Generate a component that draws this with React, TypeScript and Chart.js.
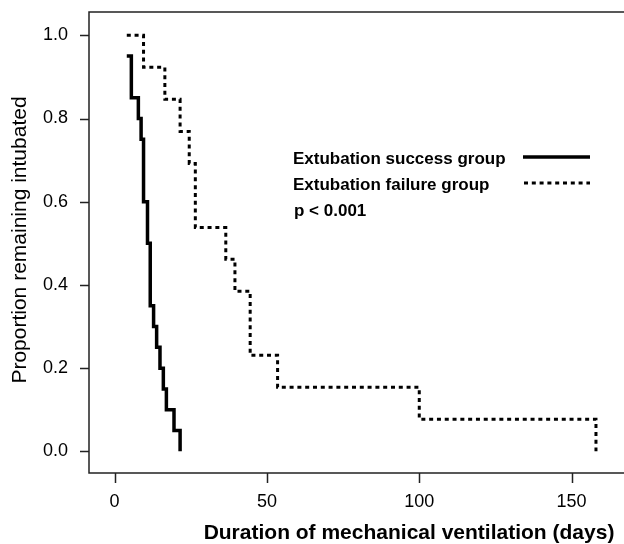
import React, { useEffect, useRef } from "react";
import { Chart, registerables } from "chart.js";

Chart.register(...registerables);

// Kaplan-Meier step data
const successDays = [4, 5.5, 7.8, 8.7, 9.5, 10.8, 11.7, 12.8, 13.8, 14.9, 16, 17, 19.5, 21.5];
const successProp = [0.95, 0.85, 0.8, 0.75, 0.6, 0.5, 0.35, 0.3, 0.25, 0.2, 0.15, 0.1, 0.05, 0.0];
const failureDays = [4, 9.5, 16.5, 21.5, 24.5, 26.5, 36.5, 39.5, 44.5, 53.5, 100, 158];
const failureProp = [1.0, 0.923, 0.846, 0.769, 0.692, 0.538, 0.462, 0.385, 0.231, 0.154, 0.077, 0.0];

const xTicks = [0, 50, 100, 150];
const xTickLabels = ["0", "50", "100", "150"];
const yTicks = [0, 0.2, 0.4, 0.6, 0.8, 1.0];
const yTickLabels = ["0.0", "0.2", "0.4", "0.6", "0.8", "1.0"];

const seriesLabels = ["Extubation success group", "Extubation failure group"];
const pValueText = "p < 0.001";
const xTitle = "Duration of mechanical ventilation (days)";
const yTitle = "Proportion remaining intubated";

const FONT = '"Liberation Sans", Arial, Helvetica, sans-serif';

export default function App() {
  const ref = useRef<HTMLCanvasElement>(null);

  useEffect(() => {
    const canvas = ref.current;
    if (!canvas) return;

    const decor = {
      id: "decor",
      beforeDatasetsDraw(chart: any) {
        const { ctx, chartArea } = chart;
        const xs = chart.scales.x;
        const ys = chart.scales.y;
        ctx.save();
        ctx.fillStyle = "#fff";
        ctx.fillRect(0, 0, chart.width, chart.height);
        ctx.strokeStyle = "#222";
        ctx.lineWidth = 1.5;
        ctx.beginPath();
        ctx.moveTo(chart.width, chartArea.top);
        ctx.lineTo(chartArea.left, chartArea.top);
        ctx.lineTo(chartArea.left, chartArea.bottom);
        ctx.lineTo(chart.width, chartArea.bottom);
        ctx.stroke();
        // ticks
        ctx.beginPath();
        yTicks.forEach((v) => {
          const y = Math.round(ys.getPixelForValue(v)) + 0.5;
          ctx.moveTo(chartArea.left - 9, y);
          ctx.lineTo(chartArea.left, y);
        });
        xTicks.forEach((v) => {
          const x = Math.round(xs.getPixelForValue(v)) + 0.5;
          ctx.moveTo(x, chartArea.bottom);
          ctx.lineTo(x, chartArea.bottom + 10);
        });
        ctx.stroke();
        // tick labels
        ctx.fillStyle = "#000";
        ctx.font = `18px ${FONT}`;
        ctx.textAlign = "center";
        ctx.textBaseline = "middle";
        xTicks.forEach((v, i) => {
          ctx.fillText(xTickLabels[i], xs.getPixelForValue(v), 502);
        });
        ctx.textAlign = "right";
        yTicks.forEach((v, i) => {
          ctx.fillText(yTickLabels[i], 68, ys.getPixelForValue(v));
        });
        // titles
        ctx.font = `bold 21px ${FONT}`;
        ctx.textAlign = "center";
        ctx.textBaseline = "alphabetic";
        ctx.fillText(xTitle, 409, 539);
        ctx.save();
        ctx.translate(20, 240);
        ctx.rotate(-Math.PI / 2);
        ctx.font = `21px ${FONT}`;
        ctx.textBaseline = "middle";
        ctx.fillText(yTitle, 0, 0);
        ctx.restore();
        ctx.restore();
      },
      afterDatasetsDraw(chart: any) {
        const { ctx } = chart;
        ctx.save();
        ctx.fillStyle = "#000";
        ctx.font = `bold 17px ${FONT}`;
        ctx.textAlign = "left";
        ctx.textBaseline = "alphabetic";
        ctx.fillText(seriesLabels[0], 293, 164);
        ctx.fillText(seriesLabels[1], 293, 190);
        ctx.fillText(pValueText, 294, 216);
        ctx.strokeStyle = "#000";
        ctx.lineWidth = 3.5;
        ctx.beginPath();
        ctx.moveTo(523, 157);
        ctx.lineTo(590, 157);
        ctx.stroke();
        ctx.lineWidth = 3;
        ctx.setLineDash([4, 3.8]);
        ctx.beginPath();
        ctx.moveTo(524, 183);
        ctx.lineTo(590, 183);
        ctx.stroke();
        ctx.restore();
      },
    };

    const chart = new Chart(canvas, {
      type: "line",
      data: {
        datasets: [
          {
            label: seriesLabels[0],
            data: successDays.map((d, i) => ({ x: d, y: successProp[i] })),
            borderColor: "#000",
            borderWidth: 3.5,
            stepped: true,
            pointRadius: 0,
            fill: false,
          },
          {
            label: seriesLabels[1],
            data: failureDays.map((d, i) => ({ x: d, y: failureProp[i] })),
            borderColor: "#000",
            borderWidth: 3,
            borderDash: [4, 3.8],
            stepped: true,
            pointRadius: 0,
            fill: false,
          },
        ],
      },
      options: {
        responsive: false,
        animation: false,
        events: [],
        layout: { padding: { left: 89, top: 12, right: 0, bottom: 71 } },
        scales: {
          x: { type: "linear", display: false, min: -8.4, max: 167.2 },
          y: { type: "linear", display: false, min: -0.052, max: 1.056 },
        },
        plugins: { legend: { display: false }, tooltip: { enabled: false } },
      },
      plugins: [decor],
    } as any);

    return () => chart.destroy();
  }, []);

  return (
    <div style={{ position: "absolute", left: 0, top: 0, width: 624, height: 544, background: "#fff" }}>
      <canvas ref={ref} width={624} height={544} style={{ display: "block" }} />
    </div>
  );
}
